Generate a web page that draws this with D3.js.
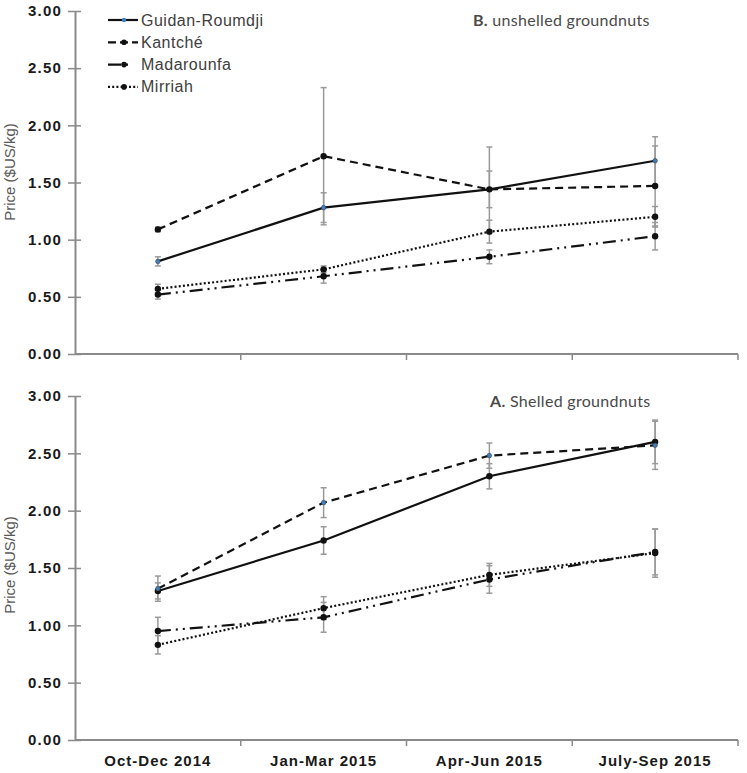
<!DOCTYPE html>
<html><head><meta charset="utf-8">
<script src="https://cdn.jsdelivr.net/npm/d3@7"></script>
<style>
body{margin:0;background:#fff;}
svg{display:block;}
</style></head>
<body>
<svg id="chart" width="747" height="773"></svg>
<script>
const categories = ["Oct-Dec 2014","Jan-Mar 2015","Apr-Jun 2015","July-Sep 2015"];
const seriesNames = ["Guidan-Roumdji","Kantché","Madarounfa","Mirriah"];
const yTicks = [0,0.5,1,1.5,2,2.5,3];

// Panel B (top): unshelled groundnuts
const unshelledMean = {
  "Guidan-Roumdji":[0.81,1.28,1.44,1.69],
  "Kantché":[1.09,1.73,1.44,1.47],
  "Madarounfa":[0.52,0.68,0.85,1.03],
  "Mirriah":[0.57,0.74,1.07,1.20]
};
const unshelledErr = {
  "Guidan-Roumdji":[0.04,0.13,0.16,0.21],
  "Kantché":[0.02,0.60,0.37,0.35],
  "Madarounfa":[0.04,0.06,0.06,0.12],
  "Mirriah":[0.04,0.03,0.10,0.09]
};
// Panel A (bottom): shelled groundnuts
const shelledMean = {
  "Guidan-Roumdji":[1.30,1.74,2.30,2.60],
  "Kantché":[1.32,2.07,2.48,2.57],
  "Madarounfa":[0.95,1.07,1.40,1.64],
  "Mirriah":[0.83,1.15,1.44,1.63]
};
const shelledErr = {
  "Guidan-Roumdji":[0.07,0.12,0.11,0.19],
  "Kantché":[0.11,0.13,0.11,0.21],
  "Madarounfa":[0.12,0.13,0.12,0.20],
  "Mirriah":[0.08,0.10,0.10,0.21]
};

const dashes = {"Guidan-Roumdji":null,"Kantché":"8,5","Madarounfa":"13,5,2,5,2,5","Mirriah":"2,2.2"};
const blueTop = {"Guidan-Roumdji":true};
const blueBottom = {"Kantché":true};

const svg = d3.select("#chart");
const x = d3.scaleBand().domain(categories).range([75,738]).padding(0);

function panel(mean, err, y0, y1, labelY, title, titleRest, blue, showXLabels){
  const y = d3.scaleLinear().domain([0,3]).range([y1,y0]);
  const g = svg.append("g");
  // y axis
  const ya = g.append("g").attr("transform","translate(75,0)")
    .call(d3.axisLeft(y).tickValues(yTicks).tickFormat(d3.format(".2f")).tickSizeInner(7).tickSizeOuter(0).tickPadding(6));
  ya.select(".domain").attr("stroke","#8a8a8a").attr("stroke-width",2);
  ya.selectAll(".tick line").attr("stroke","#8a8a8a").attr("stroke-width",1.5).attr("x2",-7).attr("x1",6);
  ya.selectAll(".tick text").attr("font-family","Liberation Sans, Arial, sans-serif").attr("font-weight","bold")
    .attr("font-size","15px").attr("fill","#1a1a1a").style("letter-spacing","1.2px").attr("x",-13);
  // x axis
  const xa = g.append("g").attr("transform",`translate(0,${y1})`);
  xa.append("line").attr("x1",75).attr("x2",738).attr("stroke","#8a8a8a").attr("stroke-width",2);
  xa.selectAll("line.tk").data(categories).enter().append("line").attr("class","tk")
    .attr("x1",d=>x(d)+x.bandwidth()).attr("x2",d=>x(d)+x.bandwidth()).attr("y1",0).attr("y2",6)
    .attr("stroke","#8a8a8a").attr("stroke-width",1.5);
  if(showXLabels){
    xa.selectAll("text").data(categories).enter().append("text")
      .attr("x",d=>x(d)+x.bandwidth()/2).attr("y",26).attr("text-anchor","middle")
      .attr("font-family","Liberation Sans, Arial, sans-serif").attr("font-weight","bold")
      .attr("font-size","15px").attr("fill","#1a1a1a").style("letter-spacing","1px").text(d=>d);
  }
  // y label
  g.append("text").attr("transform",`translate(15,${labelY}) rotate(-90)`).attr("text-anchor","middle")
    .attr("font-family","Liberation Sans, Arial, sans-serif").attr("font-size","15px").attr("fill","#595959")
    .text("Price ($US/kg)");
  // title
  const t = g.append("text").attr("x",title.x).attr("y",title.y).attr("font-family","Lato, 'Open Sans', sans-serif")
    .attr("font-size","16px").attr("fill","#4a4a4a").style("letter-spacing","0.3px");
  t.append("tspan").attr("font-weight","bold").text(title.a);
  t.append("tspan").text(titleRest);
  // error bars
  const cx = d=>x(d)+x.bandwidth()/2;
  seriesNames.forEach(s=>{
    categories.forEach((c,i)=>{
      const m = mean[s][i], e = err[s][i];
      g.append("line").attr("x1",cx(c)).attr("x2",cx(c)).attr("y1",y(m-e)).attr("y2",y(m+e))
        .attr("stroke","#9a9a9a").attr("stroke-width",1.5);
      [m-e,m+e].forEach(v=>g.append("line").attr("x1",cx(c)-3).attr("x2",cx(c)+3).attr("y1",y(v)).attr("y2",y(v))
        .attr("stroke","#9a9a9a").attr("stroke-width",1.5));
    });
  });
  // lines
  const line = d3.line().x((d,i)=>cx(categories[i])).y(d=>y(d));
  seriesNames.forEach(s=>{
    g.append("path").attr("d",line(mean[s])).attr("fill","none").attr("stroke","#111")
      .attr("stroke-width",2.2).attr("stroke-dasharray",dashes[s]);
  });
  // markers
  seriesNames.forEach(s=>{
    mean[s].forEach((v,i)=>{
      g.append("circle").attr("cx",cx(categories[i])).attr("cy",y(v)).attr("r",blue[s]?2.3:3.2)
        .attr("fill",blue[s]?"#3f7fc0":"#111").attr("stroke",blue[s]?"#333":"none").attr("stroke-width",0.5);
    });
  });
}

panel(unshelledMean, unshelledErr, 11, 354, 172, {x:473,y:26,a:"B."}, " unshelled groundnuts", blueTop, false);
panel(shelledMean, shelledErr, 396, 740, 565, {x:490,y:407,a:"A."}, " Shelled groundnuts", blueBottom, true);

// legend
const legend = svg.append("g");
seriesNames.forEach((s,i)=>{
  const ly = 20 + i*22.3;
  legend.append("line").attr("x1",108).attr("x2",138).attr("y1",ly).attr("y2",ly)
    .attr("stroke","#111").attr("stroke-width",2.2)
    .attr("stroke-dasharray", s==="Madarounfa" ? "13,5,2,100" : s==="Kantché" ? "8,4" : dashes[s]);
  legend.append("circle").attr("cx",124).attr("cy",ly).attr("r",s==="Guidan-Roumdji"?2.2:2.8)
    .attr("fill",s==="Guidan-Roumdji"?"#3f7fc0":"#111");
  legend.append("text").attr("x",141).attr("y",ly+5.5).attr("font-family","Liberation Sans, Arial, sans-serif")
    .attr("font-size","16px").attr("fill","#404040").style("letter-spacing","0.5px").text(s);
});
</script>
</body></html>
